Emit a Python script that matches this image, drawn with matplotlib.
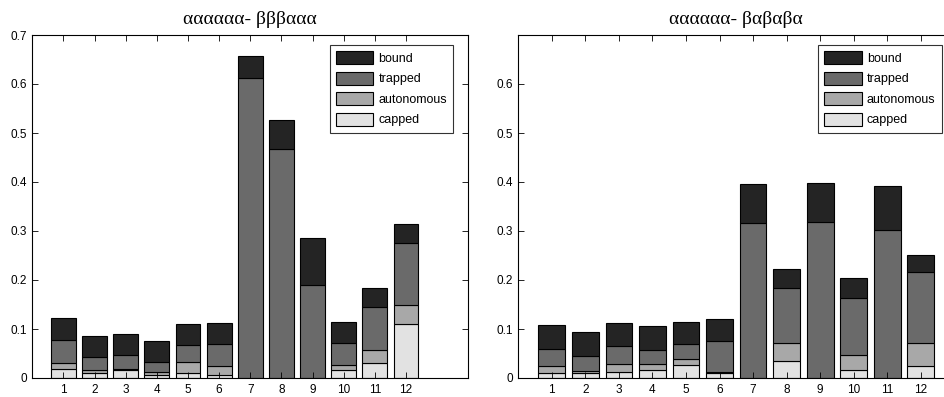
import matplotlib
matplotlib.use("Agg")
import matplotlib.pyplot as plt
import numpy as np

categories = [str(i) for i in range(1, 13)]
series_names = ["bound", "trapped", "autonomous", "capped"]

# left panel: αααααα- βββααα
left_capped = [0.018, 0.0095, 0.017, 0.006, 0.011, 0.0055, 0.0, 0.0, 0.0, 0.017, 0.0305, 0.110]
left_autonomous = [0.012, 0.0065, 0.002, 0.0055, 0.022, 0.0185, 0.0, 0.0, 0.0, 0.0087, 0.027, 0.039]
left_trapped = [0.0473, 0.026, 0.028, 0.021, 0.034, 0.045, 0.612, 0.467, 0.190, 0.0453, 0.087, 0.127]
left_bound = [0.0442, 0.0435, 0.0425, 0.0425, 0.0435, 0.044, 0.046, 0.060, 0.095, 0.044, 0.0385, 0.038]

# right panel: αααααα- βαβαβα
right_capped = [0.010, 0.010, 0.013, 0.017, 0.026, 0.010, 0.0, 0.034, 0.0, 0.017, 0.0, 0.024]
right_autonomous = [0.014, 0.005, 0.016, 0.012, 0.013, 0.002, 0.0, 0.037, 0.0, 0.029, 0.0, 0.047]
right_trapped = [0.036, 0.030, 0.036, 0.029, 0.030, 0.063, 0.316, 0.112, 0.318, 0.117, 0.303, 0.146]
right_bound = [0.048, 0.048, 0.048, 0.049, 0.046, 0.046, 0.080, 0.039, 0.080, 0.041, 0.089, 0.034]

titles = ["αααααα- βββααα", "αααααα- βαβαβα"]

colors = {"capped": "#e2e2e2", "autonomous": "#a8a8a8", "trapped": "#6a6a6a", "bound": "#242424"}

plt.rcParams["font.family"] = ["Liberation Sans", "DejaVu Sans"]

W, H = 944, 397
fig = plt.figure(figsize=(W / 100, H / 100), dpi=100)

def px_axes(x0, y0, x1, y1):
    return [x0 / W, 1 - y1 / H, (x1 - x0) / W, (y1 - y0) / H]

ax_l = fig.add_axes(px_axes(32.3, 35, 468.3, 378))
ax_r = fig.add_axes(px_axes(518.3, 35, 954.3, 378))

panels = [
    (ax_l, left_capped, left_autonomous, left_trapped, left_bound, 14, [0, 0.1, 0.2, 0.3, 0.4, 0.5, 0.6, 0.7], 453.3),
    (ax_r, right_capped, right_autonomous, right_trapped, right_bound, 13, [0, 0.1, 0.2, 0.3, 0.4, 0.5, 0.6], 941.7),
]

for i, (ax, cap, aut, trap, bnd, xmax, yt, leg_right) in enumerate(panels):
    x = np.arange(1, 13)
    bottom = np.zeros(12)
    handles = {}
    for name, vals in [("capped", cap), ("autonomous", aut), ("trapped", trap), ("bound", bnd)]:
        v = np.array(vals)
        b = ax.bar(x, v, width=0.8, bottom=bottom, color=colors[name],
                   edgecolor="black", linewidth=0.8, label=name)
        handles[name] = b
        bottom = bottom + v
    ax.set_xlim(0, xmax)
    ax.set_ylim(0, 0.7)
    ax.set_xticks(x)
    ax.set_xticklabels(categories)
    ax.set_yticks(yt)
    ax.set_yticklabels(["0" if t == 0 else f"{t:.1f}" for t in yt])
    ax.tick_params(direction="in", top=True, right=True, length=4, width=0.6,
                   labelsize=8.5, pad=4)
    for s in ax.spines.values():
        s.set_linewidth(0.8)
    ax.set_title(titles[i], fontsize=14, family=["Liberation Serif", "DejaVu Serif"], pad=8)
    leg = ax.legend([handles[n] for n in series_names], series_names,
                    loc="upper right",
                    bbox_to_anchor=(leg_right / W, 1 - 45 / H),
                    bbox_transform=fig.transFigure,
                    borderaxespad=0, fontsize=9, frameon=True, fancybox=False,
                    edgecolor="black", handlelength=3.0, handleheight=1.2,
                    labelspacing=0.55, handletextpad=0.4, borderpad=0.5)
    leg.get_frame().set_linewidth(0.8)

fig.savefig("out.png", dpi=100)
